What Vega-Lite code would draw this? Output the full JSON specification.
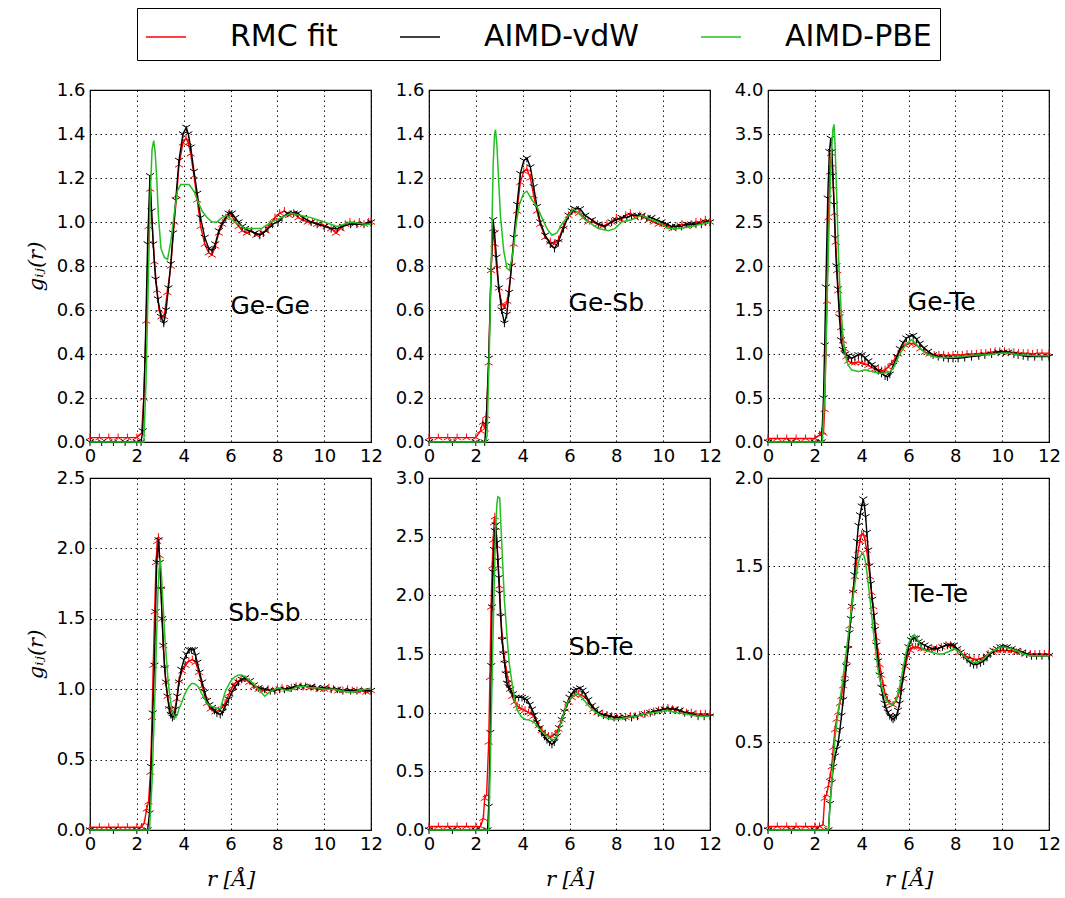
{
"$schema":"https://vega.github.io/schema/vega-lite/v6.json",
"padding":{"left":24,"top":7,"right":8,"bottom":2},
"datasets":{
"GeGe_R":[{"r":0,"g":0.02},{"r":0.4,"g":0.02},{"r":0.8,"g":0.02},{"r":1.2,"g":0.02},{"r":1.6,"g":0.02},{"r":2.0,"g":0.02},{"r":2.2,"g":0.04},{"r":2.3,"g":0.2},{"r":2.4,"g":0.55},{"r":2.5,"g":0.98},{"r":2.57,"g":1.15},{"r":2.65,"g":1.0},{"r":2.75,"g":0.82},{"r":2.86,"g":0.69},{"r":2.95,"g":0.6},{"r":3.05,"g":0.57},{"r":3.17,"g":0.57},{"r":3.3,"g":0.68},{"r":3.45,"g":0.8},{"r":3.6,"g":1.0},{"r":3.7,"g":1.12},{"r":3.8,"g":1.26},{"r":3.97,"g":1.36},{"r":4.1,"g":1.38},{"r":4.2,"g":1.36},{"r":4.3,"g":1.31},{"r":4.44,"g":1.21},{"r":4.58,"g":1.1},{"r":4.72,"g":0.98},{"r":4.9,"g":0.9},{"r":5.07,"g":0.86},{"r":5.21,"g":0.85},{"r":5.35,"g":0.89},{"r":5.5,"g":0.95},{"r":5.65,"g":0.99},{"r":5.8,"g":1.02},{"r":5.95,"g":1.04},{"r":6.05,"g":1.03},{"r":6.2,"g":1.0},{"r":6.35,"g":0.98},{"r":6.5,"g":0.96},{"r":6.7,"g":0.95},{"r":6.9,"g":0.96},{"r":7.1,"g":0.94},{"r":7.3,"g":0.95},{"r":7.5,"g":0.96},{"r":7.7,"g":0.99},{"r":7.9,"g":1.02},{"r":8.1,"g":1.04},{"r":8.3,"g":1.05},{"r":8.5,"g":1.03},{"r":8.7,"g":1.04},{"r":8.9,"g":1.02},{"r":9.1,"g":1.01},{"r":9.3,"g":1.0},{"r":9.5,"g":1.0},{"r":9.7,"g":0.99},{"r":9.9,"g":0.99},{"r":10.1,"g":0.98},{"r":10.3,"g":0.97},{"r":10.5,"g":0.95},{"r":10.7,"g":0.97},{"r":10.9,"g":0.99},{"r":11.1,"g":1.0},{"r":11.3,"g":0.99},{"r":11.5,"g":1.0},{"r":11.7,"g":0.99},{"r":11.9,"g":1.0},{"r":12,"g":1.0}],
"GeGe_V":[{"r":0,"g":0},{"r":0.5,"g":0},{"r":1,"g":0},{"r":1.5,"g":0},{"r":2,"g":0},{"r":2.18,"g":0},{"r":2.25,"g":0.05},{"r":2.35,"g":0.38},{"r":2.46,"g":0.9},{"r":2.56,"g":1.21},{"r":2.63,"g":1.05},{"r":2.7,"g":0.9},{"r":2.8,"g":0.74},{"r":2.9,"g":0.65},{"r":3.03,"g":0.57},{"r":3.15,"g":0.54},{"r":3.25,"g":0.6},{"r":3.35,"g":0.7},{"r":3.45,"g":0.81},{"r":3.55,"g":0.95},{"r":3.66,"g":1.1},{"r":3.8,"g":1.28},{"r":3.97,"g":1.4},{"r":4.11,"g":1.43},{"r":4.2,"g":1.4},{"r":4.3,"g":1.34},{"r":4.44,"g":1.23},{"r":4.58,"g":1.13},{"r":4.72,"g":1.02},{"r":4.9,"g":0.93},{"r":5.07,"g":0.88},{"r":5.21,"g":0.87},{"r":5.35,"g":0.9},{"r":5.5,"g":0.96},{"r":5.63,"g":0.99},{"r":5.8,"g":1.02},{"r":5.92,"g":1.04},{"r":6.06,"g":1.04},{"r":6.2,"g":1.02},{"r":6.34,"g":1.0},{"r":6.5,"g":0.98},{"r":6.62,"g":0.97},{"r":6.8,"g":0.96},{"r":7.04,"g":0.95},{"r":7.25,"g":0.94},{"r":7.4,"g":0.95},{"r":7.6,"g":0.97},{"r":7.8,"g":0.99},{"r":8.03,"g":1.0},{"r":8.2,"g":1.02},{"r":8.45,"g":1.04},{"r":8.7,"g":1.04},{"r":8.87,"g":1.04},{"r":9.1,"g":1.02},{"r":9.44,"g":1.0},{"r":9.7,"g":0.99},{"r":10,"g":0.98},{"r":10.3,"g":0.97},{"r":10.56,"g":0.97},{"r":10.8,"g":0.98},{"r":11.13,"g":0.99},{"r":11.4,"g":0.99},{"r":11.7,"g":0.99},{"r":12,"g":1.0}],
"GeGe_P":[{"r":0,"g":0},{"r":1,"g":0},{"r":2,"g":0},{"r":2.3,"g":0},{"r":2.39,"g":0.27},{"r":2.49,"g":0.73},{"r":2.58,"g":1.14},{"r":2.65,"g":1.33},{"r":2.72,"g":1.37},{"r":2.78,"g":1.32},{"r":2.85,"g":1.2},{"r":2.92,"g":1.03},{"r":3.03,"g":0.88},{"r":3.17,"g":0.84},{"r":3.31,"g":0.83},{"r":3.45,"g":0.91},{"r":3.59,"g":1.03},{"r":3.73,"g":1.14},{"r":3.87,"g":1.17},{"r":4.06,"g":1.17},{"r":4.23,"g":1.17},{"r":4.44,"g":1.14},{"r":4.58,"g":1.1},{"r":4.79,"g":1.05},{"r":5.0,"g":1.02},{"r":5.21,"g":1.0},{"r":5.42,"g":1.0},{"r":5.63,"g":1.02},{"r":5.85,"g":1.03},{"r":6.06,"g":1.01},{"r":6.34,"g":0.99},{"r":6.62,"g":0.97},{"r":6.9,"g":0.97},{"r":7.32,"g":0.97},{"r":7.75,"g":1.0},{"r":8.17,"g":1.02},{"r":8.59,"g":1.04},{"r":9.0,"g":1.03},{"r":9.44,"g":1.02},{"r":10,"g":1.0},{"r":10.56,"g":0.98},{"r":11.13,"g":1.0},{"r":11.77,"g":0.99},{"r":12,"g":0.99}],
"GeSb_R":[{"r":0,"g":0.02},{"r":0.4,"g":0.02},{"r":0.8,"g":0.02},{"r":1.2,"g":0.02},{"r":1.6,"g":0.02},{"r":2.0,"g":0.02},{"r":2.2,"g":0.05},{"r":2.3,"g":0.09},{"r":2.38,"g":0.06},{"r":2.45,"g":0.12},{"r":2.55,"g":0.36},{"r":2.65,"g":0.78},{"r":2.74,"g":0.97},{"r":2.8,"g":0.9},{"r":2.88,"g":0.8},{"r":2.98,"g":0.7},{"r":3.1,"g":0.63},{"r":3.22,"g":0.61},{"r":3.34,"g":0.64},{"r":3.48,"g":0.75},{"r":3.62,"g":0.9},{"r":3.76,"g":1.05},{"r":3.9,"g":1.18},{"r":4.05,"g":1.23},{"r":4.18,"g":1.24},{"r":4.33,"g":1.2},{"r":4.47,"g":1.12},{"r":4.61,"g":1.05},{"r":4.75,"g":0.99},{"r":4.96,"g":0.93},{"r":5.18,"g":0.91},{"r":5.36,"g":0.9},{"r":5.53,"g":0.92},{"r":5.74,"g":0.98},{"r":5.96,"g":1.03},{"r":6.1,"g":1.05},{"r":6.24,"g":1.05},{"r":6.4,"g":1.04},{"r":6.6,"g":1.02},{"r":6.8,"g":1.0},{"r":7.0,"g":1.0},{"r":7.2,"g":0.99},{"r":7.4,"g":0.98},{"r":7.6,"g":0.99},{"r":7.8,"g":1.0},{"r":8.0,"g":1.02},{"r":8.2,"g":1.01},{"r":8.4,"g":1.03},{"r":8.6,"g":1.04},{"r":8.8,"g":1.02},{"r":9.0,"g":1.03},{"r":9.2,"g":1.02},{"r":9.4,"g":1.01},{"r":9.6,"g":1.0},{"r":9.8,"g":0.99},{"r":10.0,"g":0.99},{"r":10.2,"g":0.98},{"r":10.4,"g":0.97},{"r":10.6,"g":0.98},{"r":10.8,"g":0.99},{"r":11.0,"g":0.98},{"r":11.2,"g":0.99},{"r":11.4,"g":1.0},{"r":11.6,"g":1.0},{"r":11.8,"g":1.01},{"r":12,"g":1.0}],
"GeSb_V":[{"r":0,"g":0},{"r":1,"g":0},{"r":2,"g":0},{"r":2.38,"g":0},{"r":2.44,"g":0.08},{"r":2.55,"g":0.38},{"r":2.65,"g":0.78},{"r":2.74,"g":1.01},{"r":2.8,"g":0.95},{"r":2.88,"g":0.84},{"r":2.98,"g":0.7},{"r":3.1,"g":0.6},{"r":3.22,"g":0.54},{"r":3.32,"g":0.58},{"r":3.42,"g":0.68},{"r":3.52,"g":0.8},{"r":3.62,"g":0.93},{"r":3.76,"g":1.08},{"r":3.9,"g":1.22},{"r":4.05,"g":1.28},{"r":4.18,"g":1.29},{"r":4.33,"g":1.25},{"r":4.47,"g":1.16},{"r":4.61,"g":1.07},{"r":4.75,"g":1.0},{"r":4.96,"g":0.94},{"r":5.18,"g":0.9},{"r":5.36,"g":0.88},{"r":5.53,"g":0.91},{"r":5.74,"g":0.97},{"r":5.96,"g":1.03},{"r":6.1,"g":1.05},{"r":6.24,"g":1.06},{"r":6.45,"g":1.06},{"r":6.67,"g":1.03},{"r":6.95,"g":1.01},{"r":7.23,"g":0.99},{"r":7.52,"g":0.98},{"r":7.8,"g":1.0},{"r":8.0,"g":1.01},{"r":8.23,"g":1.02},{"r":8.45,"g":1.02},{"r":8.65,"g":1.03},{"r":8.9,"g":1.03},{"r":9.08,"g":1.03},{"r":9.3,"g":1.02},{"r":9.5,"g":1.02},{"r":9.7,"g":1.01},{"r":9.93,"g":1.0},{"r":10.15,"g":0.99},{"r":10.35,"g":0.98},{"r":10.55,"g":0.98},{"r":10.78,"g":0.98},{"r":11.0,"g":0.99},{"r":11.2,"g":0.99},{"r":11.4,"g":0.99},{"r":11.63,"g":0.99},{"r":11.8,"g":1.0},{"r":12,"g":1.0}],
"GeSb_P":[{"r":0,"g":0},{"r":1,"g":0},{"r":2,"g":0},{"r":2.42,"g":0},{"r":2.48,"g":0.03},{"r":2.58,"g":0.43},{"r":2.67,"g":0.88},{"r":2.74,"g":1.26},{"r":2.8,"g":1.4},{"r":2.84,"g":1.42},{"r":2.9,"g":1.35},{"r":2.94,"g":1.26},{"r":3.05,"g":1.03},{"r":3.19,"g":0.87},{"r":3.33,"g":0.79},{"r":3.43,"g":0.78},{"r":3.57,"g":0.85},{"r":3.72,"g":0.99},{"r":3.86,"g":1.08},{"r":4.04,"g":1.13},{"r":4.18,"g":1.14},{"r":4.4,"g":1.1},{"r":4.61,"g":1.07},{"r":4.82,"g":1.02},{"r":5.04,"g":0.97},{"r":5.25,"g":0.94},{"r":5.46,"g":0.95},{"r":5.67,"g":0.99},{"r":5.96,"g":1.03},{"r":6.17,"g":1.06},{"r":6.38,"g":1.04},{"r":6.67,"g":1.01},{"r":6.95,"g":0.99},{"r":7.23,"g":0.97},{"r":7.66,"g":0.96},{"r":7.94,"g":0.97},{"r":8.23,"g":1.0},{"r":8.65,"g":1.01},{"r":9.08,"g":1.03},{"r":9.5,"g":1.01},{"r":9.79,"g":1.0},{"r":10.2,"g":0.97},{"r":10.64,"g":0.97},{"r":11.2,"g":0.98},{"r":11.6,"g":0.99},{"r":12,"g":1.0}],
"GeTe_R":[{"r":0,"g":0.04},{"r":0.4,"g":0.04},{"r":0.8,"g":0.04},{"r":1.2,"g":0.04},{"r":1.6,"g":0.04},{"r":2.0,"g":0.04},{"r":2.2,"g":0.08},{"r":2.3,"g":0.12},{"r":2.37,"g":0.1},{"r":2.42,"g":0.37},{"r":2.47,"g":1.0},{"r":2.52,"g":1.6},{"r":2.58,"g":2.55},{"r":2.65,"g":3.07},{"r":2.7,"g":3.28},{"r":2.75,"g":3.15},{"r":2.79,"g":2.9},{"r":2.84,"g":2.6},{"r":2.89,"g":2.27},{"r":2.95,"g":1.95},{"r":3.0,"g":1.72},{"r":3.06,"g":1.5},{"r":3.12,"g":1.3},{"r":3.2,"g":1.15},{"r":3.26,"g":1.06},{"r":3.35,"g":0.97},{"r":3.43,"g":0.92},{"r":3.57,"g":0.9},{"r":3.71,"g":0.9},{"r":3.86,"g":0.91},{"r":4.0,"g":0.9},{"r":4.14,"g":0.89},{"r":4.28,"g":0.87},{"r":4.43,"g":0.85},{"r":4.57,"g":0.83},{"r":4.71,"g":0.82},{"r":4.85,"g":0.81},{"r":5.0,"g":0.82},{"r":5.13,"g":0.85},{"r":5.28,"g":0.89},{"r":5.42,"g":0.94},{"r":5.56,"g":1.0},{"r":5.7,"g":1.06},{"r":5.85,"g":1.1},{"r":6.05,"g":1.12},{"r":6.2,"g":1.12},{"r":6.34,"g":1.1},{"r":6.5,"g":1.06},{"r":6.7,"g":1.02},{"r":6.9,"g":1.0},{"r":7.1,"g":0.99},{"r":7.3,"g":0.99},{"r":7.5,"g":0.99},{"r":7.7,"g":0.98},{"r":7.9,"g":0.99},{"r":8.1,"g":0.99},{"r":8.3,"g":0.99},{"r":8.5,"g":1.0},{"r":8.7,"g":1.0},{"r":8.9,"g":1.0},{"r":9.1,"g":1.01},{"r":9.3,"g":1.01},{"r":9.5,"g":1.02},{"r":9.7,"g":1.03},{"r":9.9,"g":1.03},{"r":10.1,"g":1.03},{"r":10.3,"g":1.02},{"r":10.5,"g":1.02},{"r":10.7,"g":1.01},{"r":10.9,"g":1.01},{"r":11.1,"g":1.01},{"r":11.3,"g":1.0},{"r":11.5,"g":1.01},{"r":11.7,"g":1.01},{"r":12,"g":1.01}],
"GeTe_V":[{"r":0,"g":0},{"r":1,"g":0},{"r":2,"g":0},{"r":2.29,"g":0},{"r":2.37,"g":0.5},{"r":2.42,"g":1.1},{"r":2.47,"g":1.76},{"r":2.55,"g":2.77},{"r":2.62,"g":3.3},{"r":2.68,"g":3.45},{"r":2.73,"g":3.3},{"r":2.77,"g":3.03},{"r":2.82,"g":2.7},{"r":2.87,"g":2.32},{"r":2.92,"g":2.0},{"r":2.98,"g":1.74},{"r":3.05,"g":1.42},{"r":3.12,"g":1.16},{"r":3.2,"g":1.05},{"r":3.3,"g":1.0},{"r":3.43,"g":0.98},{"r":3.57,"g":0.95},{"r":3.71,"g":0.97},{"r":3.86,"g":0.99},{"r":4.0,"g":0.99},{"r":4.14,"g":0.96},{"r":4.28,"g":0.92},{"r":4.43,"g":0.88},{"r":4.57,"g":0.85},{"r":4.71,"g":0.81},{"r":4.85,"g":0.78},{"r":5.0,"g":0.75},{"r":5.1,"g":0.74},{"r":5.2,"g":0.77},{"r":5.35,"g":0.87},{"r":5.5,"g":0.97},{"r":5.63,"g":1.06},{"r":5.77,"g":1.13},{"r":5.91,"g":1.18},{"r":6.05,"g":1.2},{"r":6.2,"g":1.21},{"r":6.34,"g":1.17},{"r":6.48,"g":1.12},{"r":6.65,"g":1.07},{"r":6.84,"g":1.03},{"r":7.05,"g":0.99},{"r":7.27,"g":0.97},{"r":7.5,"g":0.96},{"r":7.7,"g":0.95},{"r":7.9,"g":0.95},{"r":8.12,"g":0.95},{"r":8.4,"g":0.96},{"r":8.69,"g":0.97},{"r":9.0,"g":0.98},{"r":9.26,"g":0.99},{"r":9.55,"g":1.0},{"r":9.83,"g":1.02},{"r":10.05,"g":1.02},{"r":10.26,"g":1.02},{"r":10.5,"g":1.0},{"r":10.68,"g":0.99},{"r":10.9,"g":0.98},{"r":11.1,"g":0.97},{"r":11.39,"g":0.97},{"r":11.7,"g":0.97},{"r":12,"g":0.97}],
"GeTe_P":[{"r":0,"g":0},{"r":1,"g":0},{"r":2,"g":0},{"r":2.32,"g":0},{"r":2.44,"g":0.68},{"r":2.51,"g":1.45},{"r":2.58,"g":2.2},{"r":2.65,"g":2.85},{"r":2.72,"g":3.34},{"r":2.77,"g":3.55},{"r":2.82,"g":3.61},{"r":2.86,"g":3.4},{"r":2.89,"g":3.15},{"r":2.95,"g":2.65},{"r":3.0,"g":2.2},{"r":3.06,"g":1.8},{"r":3.12,"g":1.51},{"r":3.19,"g":1.25},{"r":3.26,"g":1.06},{"r":3.35,"g":0.93},{"r":3.43,"g":0.87},{"r":3.57,"g":0.82},{"r":3.71,"g":0.81},{"r":3.86,"g":0.8},{"r":4.0,"g":0.81},{"r":4.14,"g":0.82},{"r":4.29,"g":0.81},{"r":4.43,"g":0.8},{"r":4.6,"g":0.79},{"r":4.79,"g":0.78},{"r":4.93,"g":0.78},{"r":5.07,"g":0.79},{"r":5.21,"g":0.8},{"r":5.35,"g":0.84},{"r":5.49,"g":0.92},{"r":5.63,"g":1.0},{"r":5.77,"g":1.06},{"r":5.91,"g":1.11},{"r":6.02,"g":1.14},{"r":6.13,"g":1.16},{"r":6.27,"g":1.13},{"r":6.41,"g":1.09},{"r":6.6,"g":1.04},{"r":6.77,"g":1.0},{"r":7.0,"g":0.98},{"r":7.27,"g":0.96},{"r":7.55,"g":0.96},{"r":7.84,"g":0.96},{"r":8.2,"g":0.97},{"r":8.54,"g":0.98},{"r":8.9,"g":0.99},{"r":9.26,"g":0.99},{"r":9.6,"g":1.0},{"r":9.97,"g":1.01},{"r":10.3,"g":1.01},{"r":10.68,"g":0.99},{"r":11.0,"g":0.99},{"r":11.39,"g":0.98},{"r":11.7,"g":0.98},{"r":12,"g":0.98}],
"SbSb_R":[{"r":0,"g":0.02},{"r":0.4,"g":0.02},{"r":0.8,"g":0.02},{"r":1.2,"g":0.02},{"r":1.6,"g":0.02},{"r":2.0,"g":0.02},{"r":2.2,"g":0.02},{"r":2.32,"g":0.05},{"r":2.42,"g":0.15},{"r":2.5,"g":0.2},{"r":2.58,"g":0.41},{"r":2.65,"g":0.8},{"r":2.7,"g":1.17},{"r":2.76,"g":1.55},{"r":2.82,"g":1.9},{"r":2.87,"g":2.05},{"r":2.92,"g":2.08},{"r":2.97,"g":1.95},{"r":3.03,"g":1.73},{"r":3.08,"g":1.5},{"r":3.13,"g":1.31},{"r":3.18,"g":1.17},{"r":3.24,"g":1.05},{"r":3.31,"g":0.95},{"r":3.38,"g":0.88},{"r":3.48,"g":0.84},{"r":3.59,"g":0.83},{"r":3.7,"g":0.93},{"r":3.8,"g":1.06},{"r":3.94,"g":1.13},{"r":4.08,"g":1.17},{"r":4.22,"g":1.2},{"r":4.37,"g":1.21},{"r":4.51,"g":1.19},{"r":4.65,"g":1.12},{"r":4.79,"g":1.02},{"r":4.9,"g":0.95},{"r":5.0,"g":0.9},{"r":5.15,"g":0.86},{"r":5.35,"g":0.84},{"r":5.5,"g":0.85},{"r":5.65,"g":0.87},{"r":5.77,"g":0.9},{"r":5.95,"g":0.97},{"r":6.1,"g":1.02},{"r":6.25,"g":1.05},{"r":6.45,"g":1.07},{"r":6.62,"g":1.07},{"r":6.8,"g":1.05},{"r":7.0,"g":1.02},{"r":7.2,"g":1.0},{"r":7.4,"g":0.99},{"r":7.6,"g":1.0},{"r":7.8,"g":0.99},{"r":8.0,"g":1.0},{"r":8.2,"g":1.01},{"r":8.4,"g":1.0},{"r":8.6,"g":1.01},{"r":8.8,"g":1.02},{"r":9.0,"g":1.02},{"r":9.2,"g":1.02},{"r":9.4,"g":1.01},{"r":9.6,"g":1.01},{"r":9.8,"g":1.0},{"r":10.0,"g":1.0},{"r":10.2,"g":1.01},{"r":10.4,"g":1.0},{"r":10.6,"g":0.99},{"r":10.8,"g":0.99},{"r":11.0,"g":1.0},{"r":11.2,"g":0.99},{"r":11.4,"g":0.99},{"r":11.6,"g":0.99},{"r":11.8,"g":0.98},{"r":12,"g":0.99}],
"SbSb_V":[{"r":0,"g":0},{"r":1,"g":0},{"r":2,"g":0},{"r":2.46,"g":0},{"r":2.54,"g":0.12},{"r":2.61,"g":0.45},{"r":2.68,"g":0.83},{"r":2.75,"g":1.17},{"r":2.8,"g":1.55},{"r":2.85,"g":1.9},{"r":2.93,"g":2.06},{"r":2.98,"g":1.9},{"r":3.03,"g":1.71},{"r":3.08,"g":1.5},{"r":3.13,"g":1.31},{"r":3.19,"g":1.15},{"r":3.24,"g":1.05},{"r":3.31,"g":0.95},{"r":3.38,"g":0.86},{"r":3.45,"g":0.82},{"r":3.52,"g":0.8},{"r":3.59,"g":0.81},{"r":3.66,"g":0.86},{"r":3.73,"g":0.95},{"r":3.8,"g":1.05},{"r":3.9,"g":1.14},{"r":4.01,"g":1.21},{"r":4.12,"g":1.25},{"r":4.23,"g":1.28},{"r":4.34,"g":1.28},{"r":4.44,"g":1.28},{"r":4.51,"g":1.24},{"r":4.58,"g":1.19},{"r":4.68,"g":1.12},{"r":4.79,"g":1.05},{"r":4.9,"g":0.98},{"r":5.0,"g":0.92},{"r":5.1,"g":0.89},{"r":5.21,"g":0.87},{"r":5.32,"g":0.85},{"r":5.42,"g":0.83},{"r":5.56,"g":0.82},{"r":5.66,"g":0.84},{"r":5.77,"g":0.88},{"r":5.92,"g":0.93},{"r":6.06,"g":0.98},{"r":6.2,"g":1.02},{"r":6.34,"g":1.05},{"r":6.48,"g":1.07},{"r":6.62,"g":1.08},{"r":6.83,"g":1.06},{"r":7.0,"g":1.03},{"r":7.2,"g":1.01},{"r":7.46,"g":1.0},{"r":7.7,"g":0.99},{"r":7.89,"g":0.99},{"r":8.1,"g":1.0},{"r":8.31,"g":1.0},{"r":8.6,"g":1.01},{"r":8.87,"g":1.02},{"r":9.1,"g":1.02},{"r":9.44,"g":1.02},{"r":9.7,"g":1.01},{"r":10,"g":1.01},{"r":10.3,"g":1.0},{"r":10.56,"g":1.0},{"r":10.8,"g":0.99},{"r":11.13,"g":0.99},{"r":11.4,"g":0.99},{"r":11.77,"g":0.99},{"r":12,"g":0.99}],
"SbSb_P":[{"r":0,"g":0},{"r":1,"g":0},{"r":2,"g":0},{"r":2.54,"g":0},{"r":2.65,"g":0.34},{"r":2.72,"g":0.7},{"r":2.79,"g":1.05},{"r":2.84,"g":1.35},{"r":2.89,"g":1.64},{"r":2.95,"g":1.85},{"r":3.0,"g":1.93},{"r":3.05,"g":1.82},{"r":3.1,"g":1.66},{"r":3.16,"g":1.48},{"r":3.21,"g":1.33},{"r":3.28,"g":1.18},{"r":3.34,"g":1.05},{"r":3.41,"g":0.95},{"r":3.49,"g":0.86},{"r":3.57,"g":0.82},{"r":3.66,"g":0.8},{"r":3.73,"g":0.82},{"r":3.8,"g":0.86},{"r":3.9,"g":0.9},{"r":4.01,"g":0.95},{"r":4.12,"g":0.99},{"r":4.23,"g":1.02},{"r":4.34,"g":1.04},{"r":4.44,"g":1.04},{"r":4.55,"g":1.03},{"r":4.65,"g":1.01},{"r":4.76,"g":0.97},{"r":4.86,"g":0.94},{"r":5.0,"g":0.9},{"r":5.14,"g":0.88},{"r":5.35,"g":0.87},{"r":5.56,"g":0.86},{"r":5.67,"g":0.92},{"r":5.77,"g":0.98},{"r":5.92,"g":1.03},{"r":6.06,"g":1.07},{"r":6.2,"g":1.09},{"r":6.34,"g":1.1},{"r":6.48,"g":1.1},{"r":6.62,"g":1.09},{"r":6.76,"g":1.07},{"r":6.9,"g":1.05},{"r":7.08,"g":1.02},{"r":7.25,"g":0.99},{"r":7.46,"g":0.95},{"r":7.6,"g":0.97},{"r":7.75,"g":0.99},{"r":7.9,"g":1.0},{"r":8.03,"g":1.01},{"r":8.2,"g":1.0},{"r":8.45,"g":0.99},{"r":8.65,"g":1.0},{"r":8.87,"g":1.02},{"r":9.15,"g":1.02},{"r":9.44,"g":1.01},{"r":9.7,"g":1.01},{"r":10,"g":1.0},{"r":10.35,"g":1.0},{"r":10.7,"g":0.99},{"r":11.0,"g":0.98},{"r":11.27,"g":0.98},{"r":11.5,"g":0.99},{"r":11.77,"g":1.0},{"r":12,"g":1.0}],
"SbTe_R":[{"r":0,"g":0.03},{"r":0.4,"g":0.03},{"r":0.8,"g":0.03},{"r":1.2,"g":0.03},{"r":1.6,"g":0.03},{"r":2.0,"g":0.03},{"r":2.2,"g":0.03},{"r":2.32,"g":0.1},{"r":2.38,"g":0.27},{"r":2.46,"g":0.3},{"r":2.55,"g":0.75},{"r":2.6,"g":1.3},{"r":2.65,"g":1.9},{"r":2.7,"g":2.25},{"r":2.74,"g":2.47},{"r":2.78,"g":2.62},{"r":2.81,"g":2.67},{"r":2.86,"g":2.58},{"r":2.91,"g":2.42},{"r":2.96,"g":2.25},{"r":3.01,"g":2.08},{"r":3.06,"g":1.85},{"r":3.12,"g":1.65},{"r":3.18,"g":1.53},{"r":3.23,"g":1.45},{"r":3.3,"g":1.36},{"r":3.38,"g":1.28},{"r":3.46,"g":1.2},{"r":3.55,"g":1.14},{"r":3.65,"g":1.09},{"r":3.76,"g":1.06},{"r":3.86,"g":1.04},{"r":3.97,"g":1.03},{"r":4.1,"g":1.02},{"r":4.25,"g":1.0},{"r":4.36,"g":0.99},{"r":4.47,"g":0.97},{"r":4.57,"g":0.93},{"r":4.68,"g":0.89},{"r":4.82,"g":0.85},{"r":4.96,"g":0.82},{"r":5.1,"g":0.8},{"r":5.25,"g":0.8},{"r":5.39,"g":0.82},{"r":5.53,"g":0.86},{"r":5.67,"g":0.94},{"r":5.82,"g":1.03},{"r":5.96,"g":1.09},{"r":6.1,"g":1.13},{"r":6.24,"g":1.15},{"r":6.38,"g":1.16},{"r":6.52,"g":1.15},{"r":6.67,"g":1.13},{"r":6.85,"g":1.08},{"r":7.02,"g":1.03},{"r":7.2,"g":1.0},{"r":7.4,"g":0.99},{"r":7.6,"g":0.98},{"r":7.8,"g":0.97},{"r":8.0,"g":0.96},{"r":8.2,"g":0.96},{"r":8.4,"g":0.96},{"r":8.6,"g":0.97},{"r":8.8,"g":0.97},{"r":9.0,"g":0.98},{"r":9.2,"g":0.99},{"r":9.4,"g":1.0},{"r":9.6,"g":1.01},{"r":9.8,"g":1.02},{"r":10.0,"g":1.03},{"r":10.2,"g":1.04},{"r":10.4,"g":1.03},{"r":10.6,"g":1.02},{"r":10.8,"g":1.01},{"r":11.0,"g":1.0},{"r":11.2,"g":1.0},{"r":11.4,"g":0.99},{"r":11.6,"g":0.99},{"r":11.8,"g":0.99},{"r":12,"g":0.99}],
"SbTe_V":[{"r":0,"g":0},{"r":1,"g":0},{"r":2,"g":0},{"r":2.5,"g":0},{"r":2.55,"g":0.2},{"r":2.62,"g":0.83},{"r":2.66,"g":1.4},{"r":2.69,"g":1.9},{"r":2.73,"g":2.2},{"r":2.77,"g":2.39},{"r":2.81,"g":2.55},{"r":2.85,"g":2.6},{"r":2.9,"g":2.45},{"r":2.94,"g":2.3},{"r":2.98,"g":2.15},{"r":3.01,"g":2.02},{"r":3.06,"g":1.82},{"r":3.12,"g":1.62},{"r":3.18,"g":1.5},{"r":3.23,"g":1.42},{"r":3.28,"g":1.33},{"r":3.33,"g":1.25},{"r":3.4,"g":1.22},{"r":3.47,"g":1.2},{"r":3.58,"g":1.16},{"r":3.69,"g":1.13},{"r":3.83,"g":1.13},{"r":3.97,"g":1.13},{"r":4.08,"g":1.12},{"r":4.18,"g":1.11},{"r":4.3,"g":1.07},{"r":4.4,"g":1.03},{"r":4.5,"g":0.98},{"r":4.61,"g":0.92},{"r":4.72,"g":0.87},{"r":4.82,"g":0.83},{"r":4.93,"g":0.8},{"r":5.04,"g":0.77},{"r":5.15,"g":0.75},{"r":5.25,"g":0.73},{"r":5.35,"g":0.75},{"r":5.46,"g":0.8},{"r":5.56,"g":0.87},{"r":5.67,"g":0.94},{"r":5.78,"g":1.01},{"r":5.89,"g":1.08},{"r":6.0,"g":1.13},{"r":6.1,"g":1.16},{"r":6.2,"g":1.19},{"r":6.31,"g":1.2},{"r":6.45,"g":1.21},{"r":6.56,"g":1.19},{"r":6.67,"g":1.16},{"r":6.8,"g":1.11},{"r":6.95,"g":1.06},{"r":7.1,"g":1.03},{"r":7.23,"g":1.0},{"r":7.45,"g":0.98},{"r":7.66,"g":0.97},{"r":7.9,"g":0.96},{"r":8.09,"g":0.96},{"r":8.4,"g":0.96},{"r":8.65,"g":0.96},{"r":8.9,"g":0.97},{"r":9.22,"g":0.99},{"r":9.45,"g":1.0},{"r":9.64,"g":1.01},{"r":9.85,"g":1.02},{"r":10.07,"g":1.03},{"r":10.3,"g":1.03},{"r":10.5,"g":1.03},{"r":10.7,"g":1.02},{"r":10.92,"g":1.0},{"r":11.2,"g":0.99},{"r":11.49,"g":0.97},{"r":11.75,"g":0.97},{"r":12,"g":0.97}],
"SbTe_P":[{"r":0,"g":0},{"r":1,"g":0},{"r":2,"g":0},{"r":2.55,"g":0},{"r":2.62,"g":0.55},{"r":2.67,"g":1.05},{"r":2.72,"g":1.54},{"r":2.78,"g":2.05},{"r":2.84,"g":2.53},{"r":2.9,"g":2.78},{"r":2.94,"g":2.84},{"r":3.02,"g":2.83},{"r":3.07,"g":2.6},{"r":3.12,"g":2.39},{"r":3.17,"g":2.17},{"r":3.22,"g":1.96},{"r":3.28,"g":1.8},{"r":3.33,"g":1.65},{"r":3.38,"g":1.53},{"r":3.43,"g":1.42},{"r":3.49,"g":1.33},{"r":3.55,"g":1.25},{"r":3.62,"g":1.16},{"r":3.69,"g":1.08},{"r":3.76,"g":1.03},{"r":3.83,"g":1.0},{"r":3.93,"g":0.97},{"r":4.04,"g":0.95},{"r":4.15,"g":0.94},{"r":4.25,"g":0.94},{"r":4.36,"g":0.93},{"r":4.47,"g":0.92},{"r":4.58,"g":0.9},{"r":4.68,"g":0.87},{"r":4.82,"g":0.84},{"r":4.96,"g":0.82},{"r":5.1,"g":0.79},{"r":5.25,"g":0.77},{"r":5.35,"g":0.77},{"r":5.46,"g":0.8},{"r":5.56,"g":0.86},{"r":5.67,"g":0.94},{"r":5.78,"g":1.01},{"r":5.89,"g":1.08},{"r":6.0,"g":1.11},{"r":6.14,"g":1.14},{"r":6.25,"g":1.15},{"r":6.35,"g":1.16},{"r":6.47,"g":1.14},{"r":6.6,"g":1.11},{"r":6.77,"g":1.07},{"r":6.95,"g":1.03},{"r":7.15,"g":1.0},{"r":7.38,"g":0.97},{"r":7.65,"g":0.95},{"r":7.94,"g":0.94},{"r":8.2,"g":0.95},{"r":8.51,"g":0.96},{"r":8.85,"g":0.97},{"r":9.22,"g":0.99},{"r":9.55,"g":1.0},{"r":9.93,"g":1.01},{"r":10.15,"g":1.02},{"r":10.35,"g":1.01},{"r":10.6,"g":1.0},{"r":10.92,"g":0.99},{"r":11.2,"g":0.98},{"r":11.49,"g":0.97},{"r":11.75,"g":0.97},{"r":12,"g":0.97}],
"TeTe_R":[{"r":0,"g":0.02},{"r":0.4,"g":0.02},{"r":0.8,"g":0.02},{"r":1.2,"g":0.02},{"r":1.6,"g":0.02},{"r":2.0,"g":0.02},{"r":2.2,"g":0.02},{"r":2.35,"g":0.03},{"r":2.42,"g":0.18},{"r":2.5,"g":0.2},{"r":2.58,"g":0.25},{"r":2.65,"g":0.3},{"r":2.72,"g":0.36},{"r":2.79,"g":0.47},{"r":2.86,"g":0.57},{"r":2.93,"g":0.63},{"r":3.0,"g":0.67},{"r":3.07,"g":0.72},{"r":3.14,"g":0.76},{"r":3.21,"g":0.82},{"r":3.28,"g":0.88},{"r":3.35,"g":0.96},{"r":3.42,"g":1.05},{"r":3.49,"g":1.16},{"r":3.56,"g":1.27},{"r":3.63,"g":1.36},{"r":3.71,"g":1.44},{"r":3.78,"g":1.52},{"r":3.86,"g":1.59},{"r":3.93,"g":1.64},{"r":4.0,"g":1.68},{"r":4.07,"g":1.68},{"r":4.14,"g":1.65},{"r":4.21,"g":1.59},{"r":4.28,"g":1.52},{"r":4.35,"g":1.44},{"r":4.42,"g":1.35},{"r":4.49,"g":1.27},{"r":4.56,"g":1.18},{"r":4.63,"g":1.09},{"r":4.7,"g":1.01},{"r":4.77,"g":0.94},{"r":4.84,"g":0.88},{"r":4.91,"g":0.83},{"r":4.98,"g":0.78},{"r":5.1,"g":0.74},{"r":5.2,"g":0.72},{"r":5.34,"g":0.71},{"r":5.45,"g":0.73},{"r":5.55,"g":0.76},{"r":5.65,"g":0.8},{"r":5.76,"g":0.86},{"r":5.87,"g":0.93},{"r":5.97,"g":0.99},{"r":6.08,"g":1.02},{"r":6.18,"g":1.04},{"r":6.3,"g":1.04},{"r":6.4,"g":1.04},{"r":6.55,"g":1.03},{"r":6.68,"g":1.03},{"r":6.85,"g":1.02},{"r":7.0,"g":1.03},{"r":7.2,"g":1.03},{"r":7.4,"g":1.04},{"r":7.6,"g":1.05},{"r":7.8,"g":1.05},{"r":8.0,"g":1.03},{"r":8.2,"g":1.01},{"r":8.4,"g":0.99},{"r":8.6,"g":0.98},{"r":8.8,"g":0.97},{"r":9.0,"g":0.97},{"r":9.2,"g":0.98},{"r":9.4,"g":1.0},{"r":9.6,"g":1.01},{"r":9.8,"g":1.02},{"r":10.0,"g":1.02},{"r":10.2,"g":1.02},{"r":10.4,"g":1.02},{"r":10.6,"g":1.01},{"r":10.8,"g":1.01},{"r":11.0,"g":1.0},{"r":11.2,"g":1.0},{"r":11.4,"g":1.0},{"r":11.6,"g":1.0},{"r":11.8,"g":1.0},{"r":12,"g":1.0}],
"TeTe_V":[{"r":0,"g":0},{"r":1,"g":0},{"r":2,"g":0},{"r":2.58,"g":0},{"r":2.65,"g":0.15},{"r":2.72,"g":0.27},{"r":2.79,"g":0.36},{"r":2.86,"g":0.42},{"r":2.93,"g":0.46},{"r":3.0,"g":0.5},{"r":3.07,"g":0.57},{"r":3.14,"g":0.65},{"r":3.21,"g":0.74},{"r":3.28,"g":0.84},{"r":3.35,"g":0.93},{"r":3.42,"g":1.03},{"r":3.48,"g":1.12},{"r":3.54,"g":1.2},{"r":3.59,"g":1.27},{"r":3.64,"g":1.35},{"r":3.69,"g":1.45},{"r":3.74,"g":1.54},{"r":3.8,"g":1.64},{"r":3.86,"g":1.73},{"r":3.93,"g":1.79},{"r":4.0,"g":1.84},{"r":4.07,"g":1.88},{"r":4.12,"g":1.84},{"r":4.17,"g":1.78},{"r":4.22,"g":1.69},{"r":4.28,"g":1.59},{"r":4.33,"g":1.5},{"r":4.39,"g":1.4},{"r":4.45,"g":1.31},{"r":4.52,"g":1.22},{"r":4.57,"g":1.14},{"r":4.63,"g":1.05},{"r":4.7,"g":0.96},{"r":4.77,"g":0.88},{"r":4.84,"g":0.81},{"r":4.91,"g":0.76},{"r":4.98,"g":0.72},{"r":5.05,"g":0.69},{"r":5.12,"g":0.67},{"r":5.2,"g":0.65},{"r":5.27,"g":0.64},{"r":5.34,"g":0.63},{"r":5.41,"g":0.64},{"r":5.48,"g":0.65},{"r":5.55,"g":0.68},{"r":5.62,"g":0.72},{"r":5.69,"g":0.79},{"r":5.76,"g":0.86},{"r":5.83,"g":0.93},{"r":5.9,"g":0.99},{"r":6.0,"g":1.04},{"r":6.11,"g":1.08},{"r":6.22,"g":1.09},{"r":6.32,"g":1.09},{"r":6.43,"g":1.07},{"r":6.53,"g":1.06},{"r":6.68,"g":1.05},{"r":6.82,"g":1.04},{"r":7.0,"g":1.03},{"r":7.24,"g":1.03},{"r":7.45,"g":1.04},{"r":7.66,"g":1.05},{"r":7.8,"g":1.05},{"r":7.94,"g":1.05},{"r":8.08,"g":1.03},{"r":8.22,"g":1.01},{"r":8.36,"g":0.99},{"r":8.5,"g":0.97},{"r":8.64,"g":0.95},{"r":8.78,"g":0.94},{"r":8.92,"g":0.94},{"r":9.07,"g":0.95},{"r":9.21,"g":0.96},{"r":9.35,"g":0.98},{"r":9.49,"g":1.0},{"r":9.63,"g":1.02},{"r":9.78,"g":1.03},{"r":9.92,"g":1.04},{"r":10.06,"g":1.04},{"r":10.2,"g":1.04},{"r":10.4,"g":1.03},{"r":10.63,"g":1.02},{"r":10.85,"g":1.01},{"r":11.05,"g":1.0},{"r":11.25,"g":0.99},{"r":11.47,"g":0.99},{"r":11.7,"g":0.99},{"r":12,"g":0.99}],
"TeTe_P":[{"r":0,"g":0},{"r":1,"g":0},{"r":2,"g":0},{"r":2.58,"g":0},{"r":2.65,"g":0.14},{"r":2.72,"g":0.27},{"r":2.79,"g":0.4},{"r":2.86,"g":0.52},{"r":2.93,"g":0.6},{"r":3.0,"g":0.67},{"r":3.07,"g":0.74},{"r":3.14,"g":0.8},{"r":3.21,"g":0.87},{"r":3.28,"g":0.95},{"r":3.35,"g":1.02},{"r":3.42,"g":1.1},{"r":3.49,"g":1.17},{"r":3.56,"g":1.25},{"r":3.63,"g":1.32},{"r":3.71,"g":1.4},{"r":3.78,"g":1.46},{"r":3.86,"g":1.52},{"r":3.93,"g":1.55},{"r":4.0,"g":1.57},{"r":4.07,"g":1.57},{"r":4.14,"g":1.54},{"r":4.21,"g":1.48},{"r":4.28,"g":1.4},{"r":4.35,"g":1.32},{"r":4.42,"g":1.23},{"r":4.49,"g":1.14},{"r":4.56,"g":1.06},{"r":4.63,"g":0.98},{"r":4.7,"g":0.91},{"r":4.77,"g":0.86},{"r":4.84,"g":0.82},{"r":4.95,"g":0.77},{"r":5.05,"g":0.74},{"r":5.16,"g":0.72},{"r":5.27,"g":0.71},{"r":5.37,"g":0.72},{"r":5.48,"g":0.74},{"r":5.58,"g":0.79},{"r":5.69,"g":0.86},{"r":5.8,"g":0.94},{"r":5.9,"g":1.01},{"r":6.0,"g":1.06},{"r":6.11,"g":1.09},{"r":6.25,"g":1.11},{"r":6.35,"g":1.09},{"r":6.46,"g":1.06},{"r":6.6,"g":1.03},{"r":6.75,"g":1.02},{"r":7.0,"g":1.01},{"r":7.24,"g":1.0},{"r":7.45,"g":1.0},{"r":7.66,"g":1.01},{"r":7.8,"g":1.02},{"r":7.94,"g":1.03},{"r":8.08,"g":1.02},{"r":8.22,"g":1.01},{"r":8.43,"g":0.98},{"r":8.64,"g":0.96},{"r":8.78,"g":0.95},{"r":8.92,"g":0.95},{"r":9.06,"g":0.96},{"r":9.2,"g":0.97},{"r":9.4,"g":1.0},{"r":9.63,"g":1.02},{"r":9.8,"g":1.03},{"r":9.92,"g":1.04},{"r":10.1,"g":1.04},{"r":10.35,"g":1.03},{"r":10.6,"g":1.02},{"r":10.92,"g":1.0},{"r":11.2,"g":0.99},{"r":11.47,"g":0.99},{"r":11.7,"g":0.99},{"r":12,"g":0.99}]
},
"vconcat":[
{"hconcat":[
{"width":281,"height":352,
 "encoding":{"x":{"field":"r","type":"quantitative","scale":{"domain":[0,12],"nice":false},"axis":{"values":[0,2,4,6,8,10,12],"title":null}},
  "y":{"field":"g","type":"quantitative","scale":{"domain":[0,1.6],"nice":false},"axis":{"values":[0,0.2,0.4,0.6,0.8,1.0,1.2,1.4,1.6],"format":".1f","title":"gᵢⱼ(r)"}}},
 "layer":[
  {"data":{"name":"GeGe_R"},"mark":{"type":"line","strokeWidth":1.4,"point":{"shape":"M-1,0.6L0,0L1,0.6M0,0L0,-1","filled":false,"size":64,"strokeWidth":1}},"encoding":{"color":{"datum":"RMC fit","scale":{"domain":["RMC fit","AIMD-vdW","AIMD-PBE"],"range":["#ff0000","#000000","#22c022"]},"legend":{"orient":"none","legendX":47,"legendY":-82,"direction":"horizontal","title":null,"symbolType":"stroke","symbolSize":1600,"symbolStrokeWidth":1.5,"labelFontSize":30,"labelFont":"DejaVu Sans","labelColor":"#000","labelOffset":43,"columnPadding":59,"padding":8,"strokeColor":"#000","fillColor":"#fff","labelLimit":0}}}},
  {"data":{"name":"GeGe_V"},"mark":{"type":"line","strokeWidth":1.4,"point":{"shape":"M-1,-0.6L0,0L1,-0.6M0,0L0,1","filled":false,"size":64,"strokeWidth":1}},"encoding":{"color":{"datum":"AIMD-vdW"}}},
  {"data":{"name":"GeGe_P"},"mark":{"type":"line","strokeWidth":1.5},"encoding":{"color":{"datum":"AIMD-PBE"}}},
  {"data":{"values":[{"t":"Ge-Ge","r":6.0,"g":0.62}]},"mark":{"type":"text","align":"left","baseline":"middle","fontSize":25,"font":"DejaVu Sans","color":"#000"},"encoding":{"text":{"field":"t"}}}
 ]},
{"width":281,"height":352,
 "encoding":{"x":{"field":"r","type":"quantitative","scale":{"domain":[0,12],"nice":false},"axis":{"values":[0,2,4,6,8,10,12],"title":null}},
  "y":{"field":"g","type":"quantitative","scale":{"domain":[0,1.6],"nice":false},"axis":{"values":[0,0.2,0.4,0.6,0.8,1.0,1.2,1.4,1.6],"format":".1f","title":null}}},
 "layer":[
  {"data":{"name":"GeSb_R"},"mark":{"type":"line","strokeWidth":1.4,"point":{"shape":"M-1,0.6L0,0L1,0.6M0,0L0,-1","filled":false,"size":64,"strokeWidth":1}},"encoding":{"color":{"datum":"RMC fit"}}},
  {"data":{"name":"GeSb_V"},"mark":{"type":"line","strokeWidth":1.4,"point":{"shape":"M-1,-0.6L0,0L1,-0.6M0,0L0,1","filled":false,"size":64,"strokeWidth":1}},"encoding":{"color":{"datum":"AIMD-vdW"}}},
  {"data":{"name":"GeSb_P"},"mark":{"type":"line","strokeWidth":1.5},"encoding":{"color":{"datum":"AIMD-PBE"}}},
  {"data":{"values":[{"t":"Ge-Sb","r":5.96,"g":0.63}]},"mark":{"type":"text","align":"left","baseline":"middle","fontSize":25,"font":"DejaVu Sans","color":"#000"},"encoding":{"text":{"field":"t"}}}
 ]},
{"width":281,"height":352,
 "encoding":{"x":{"field":"r","type":"quantitative","scale":{"domain":[0,12],"nice":false},"axis":{"values":[0,2,4,6,8,10,12],"title":null}},
  "y":{"field":"g","type":"quantitative","scale":{"domain":[0,4],"nice":false},"axis":{"values":[0,0.5,1.0,1.5,2.0,2.5,3.0,3.5,4.0],"format":".1f","title":null}}},
 "layer":[
  {"data":{"name":"GeTe_R"},"mark":{"type":"line","strokeWidth":1.4,"point":{"shape":"M-1,0.6L0,0L1,0.6M0,0L0,-1","filled":false,"size":64,"strokeWidth":1}},"encoding":{"color":{"datum":"RMC fit"}}},
  {"data":{"name":"GeTe_V"},"mark":{"type":"line","strokeWidth":1.4,"point":{"shape":"M-1,-0.6L0,0L1,-0.6M0,0L0,1","filled":false,"size":64,"strokeWidth":1}},"encoding":{"color":{"datum":"AIMD-vdW"}}},
  {"data":{"name":"GeTe_P"},"mark":{"type":"line","strokeWidth":1.5},"encoding":{"color":{"datum":"AIMD-PBE"}}},
  {"data":{"values":[{"t":"Ge-Te","r":5.97,"g":1.59}]},"mark":{"type":"text","align":"left","baseline":"middle","fontSize":25,"font":"DejaVu Sans","color":"#000"},"encoding":{"text":{"field":"t"}}}
 ]}
],"spacing":58,"bounds":"flush"},
{"hconcat":[
{"width":281,"height":352,
 "encoding":{"x":{"field":"r","type":"quantitative","scale":{"domain":[0,12],"nice":false},"axis":{"values":[0,2,4,6,8,10,12],"title":"r [Å]"}},
  "y":{"field":"g","type":"quantitative","scale":{"domain":[0,2.5],"nice":false},"axis":{"values":[0,0.5,1.0,1.5,2.0,2.5],"format":".1f","title":"gᵢⱼ(r)"}}},
 "layer":[
  {"data":{"name":"SbSb_R"},"mark":{"type":"line","strokeWidth":1.4,"point":{"shape":"M-1,0.6L0,0L1,0.6M0,0L0,-1","filled":false,"size":64,"strokeWidth":1}},"encoding":{"color":{"datum":"RMC fit"}}},
  {"data":{"name":"SbSb_V"},"mark":{"type":"line","strokeWidth":1.4,"point":{"shape":"M-1,-0.6L0,0L1,-0.6M0,0L0,1","filled":false,"size":64,"strokeWidth":1}},"encoding":{"color":{"datum":"AIMD-vdW"}}},
  {"data":{"name":"SbSb_P"},"mark":{"type":"line","strokeWidth":1.5},"encoding":{"color":{"datum":"AIMD-PBE"}}},
  {"data":{"values":[{"t":"Sb-Sb","r":5.9,"g":1.54}]},"mark":{"type":"text","align":"left","baseline":"middle","fontSize":25,"font":"DejaVu Sans","color":"#000"},"encoding":{"text":{"field":"t"}}}
 ]},
{"width":281,"height":352,
 "encoding":{"x":{"field":"r","type":"quantitative","scale":{"domain":[0,12],"nice":false},"axis":{"values":[0,2,4,6,8,10,12],"title":"r [Å]"}},
  "y":{"field":"g","type":"quantitative","scale":{"domain":[0,3],"nice":false},"axis":{"values":[0,0.5,1.0,1.5,2.0,2.5,3.0],"format":".1f","title":null}}},
 "layer":[
  {"data":{"name":"SbTe_R"},"mark":{"type":"line","strokeWidth":1.4,"point":{"shape":"M-1,0.6L0,0L1,0.6M0,0L0,-1","filled":false,"size":64,"strokeWidth":1}},"encoding":{"color":{"datum":"RMC fit"}}},
  {"data":{"name":"SbTe_V"},"mark":{"type":"line","strokeWidth":1.4,"point":{"shape":"M-1,-0.6L0,0L1,-0.6M0,0L0,1","filled":false,"size":64,"strokeWidth":1}},"encoding":{"color":{"datum":"AIMD-vdW"}}},
  {"data":{"name":"SbTe_P"},"mark":{"type":"line","strokeWidth":1.5},"encoding":{"color":{"datum":"AIMD-PBE"}}},
  {"data":{"values":[{"t":"Sb-Te","r":5.97,"g":1.56}]},"mark":{"type":"text","align":"left","baseline":"middle","fontSize":25,"font":"DejaVu Sans","color":"#000"},"encoding":{"text":{"field":"t"}}}
 ]},
{"width":281,"height":352,
 "encoding":{"x":{"field":"r","type":"quantitative","scale":{"domain":[0,12],"nice":false},"axis":{"values":[0,2,4,6,8,10,12],"title":"r [Å]"}},
  "y":{"field":"g","type":"quantitative","scale":{"domain":[0,2],"nice":false},"axis":{"values":[0,0.5,1.0,1.5,2.0],"format":".1f","title":null}}},
 "layer":[
  {"data":{"name":"TeTe_R"},"mark":{"type":"line","strokeWidth":1.4,"point":{"shape":"M-1,0.6L0,0L1,0.6M0,0L0,-1","filled":false,"size":64,"strokeWidth":1}},"encoding":{"color":{"datum":"RMC fit"}}},
  {"data":{"name":"TeTe_V"},"mark":{"type":"line","strokeWidth":1.4,"point":{"shape":"M-1,-0.6L0,0L1,-0.6M0,0L0,1","filled":false,"size":64,"strokeWidth":1}},"encoding":{"color":{"datum":"AIMD-vdW"}}},
  {"data":{"name":"TeTe_P"},"mark":{"type":"line","strokeWidth":1.5},"encoding":{"color":{"datum":"AIMD-PBE"}}},
  {"data":{"values":[{"t":"Te-Te","r":6.0,"g":1.34}]},"mark":{"type":"text","align":"left","baseline":"middle","fontSize":25,"font":"DejaVu Sans","color":"#000"},"encoding":{"text":{"field":"t"}}}
 ]}
],"spacing":58,"bounds":"flush"}
],
"spacing":2,
"config":{
 "font":"DejaVu Sans",
 "view":{"stroke":"#000","strokeWidth":1.2},
 "axis":{"labelFont":"DejaVu Sans","labelFontSize":18,"labelColor":"#000","grid":true,"gridColor":"#000","gridDash":[1.5,3.5],"gridWidth":1,"gridOpacity":0.9,"domain":false,"ticks":false,"labelPadding":5,"labelFlush":false,"labelOverlap":false,"titleFont":"DejaVu Serif","titleFontStyle":"italic","titleFontWeight":"normal","titleFontSize":21,"titleColor":"#000"},
 "axisX":{"titlePadding":15},
 "axisY":{"titlePadding":10}
}
}
